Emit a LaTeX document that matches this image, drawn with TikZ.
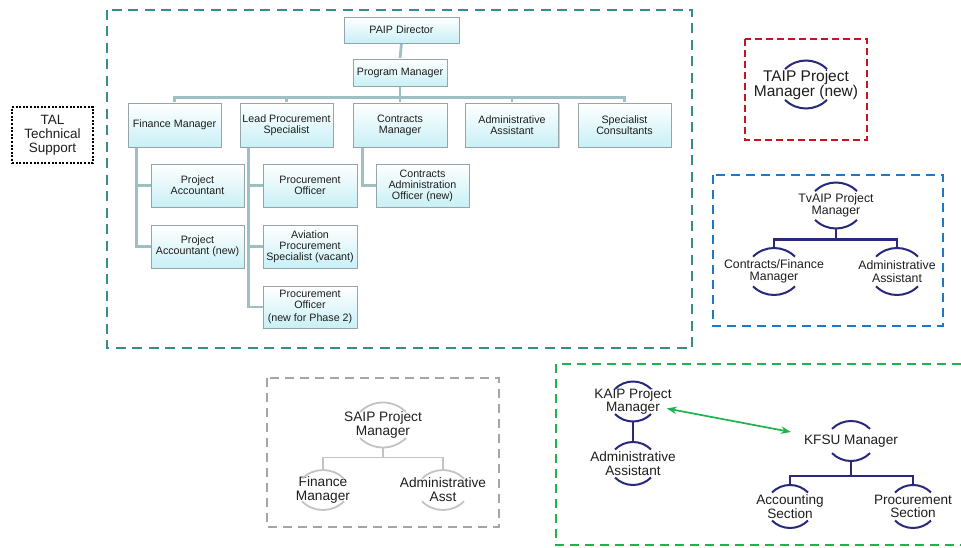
\documentclass[tikz,border=0pt]{standalone}
\usepackage{fontspec}
\setmainfont{Liberation Sans}
\usetikzlibrary{calc,shadows,arrows.meta,backgrounds}
\definecolor{tealdash}{RGB}{55,140,140}
\definecolor{reddash}{RGB}{200,20,30}
\definecolor{bluedash}{RGB}{30,120,200}
\definecolor{greydash}{RGB}{165,165,165}
\definecolor{greendash}{RGB}{30,180,75}
\definecolor{navy}{RGB}{40,40,125}
\definecolor{conn}{RGB}{158,192,196}
\definecolor{boxcyan}{RGB}{200,240,246}
\definecolor{boxedge}{RGB}{150,165,168}
\definecolor{lightarc}{RGB}{195,195,195}
\definecolor{txt}{RGB}{30,30,30}
\newcommand\ringarcs[4]{%
  \coordinate (#1-t) at ($(#1.center)+(0,#3)$);
  \coordinate (#1-b) at ($(#1.center)+(0,-#3)$);
  \draw[#4] ($(#1.center)+({-#2},{#3-0.4142*#2})$) arc[start angle=135,end angle=45,radius={1.4142*#2}];
  \draw[#4] ($(#1.center)+({-#2},{-#3+0.4142*#2})$) arc[start angle=225,end angle=315,radius={1.4142*#2}];
}
\begin{document}
\begin{tikzpicture}[x=1pt,y=1pt,
  orgbox/.style={draw=boxedge,line width=0.7pt,top color=white,bottom color=boxcyan,
    drop shadow={shadow xshift=1.2pt,shadow yshift=-1.2pt,opacity=0.35},
    align=center,inner sep=1pt,text=txt,font=\fontsize{10.7}{11}\selectfont,
    minimum width=93,minimum height=43},
  orgline/.style={draw=conn,line width=2.8pt},
  arctext/.style={align=center,inner sep=0pt,text=txt},
  navyarc/.style={draw=navy,line width=2pt},
  navyline/.style={draw=navy,line width=2.4pt},
  greyarc/.style={draw=lightarc,line width=1.8pt},
  greyline/.style={draw=lightarc,line width=1.5pt},
  dashbox/.style={line width=2.7pt,dash pattern=on 9pt off 6pt}
]
\useasboundingbox (0,0) rectangle (961,-548);
\begin{scope}[on background layer]
\fill[white] (0,0) rectangle (961,-548);
\end{scope}

% containers
\draw[dashbox,draw=tealdash,dash pattern=on 10pt off 6.5pt] (107,-10) rectangle (692,-348);
\draw[dashbox,draw=reddash,dash pattern=on 7pt off 4pt] (745,-39) rectangle (867,-140);
\draw[dashbox,draw=bluedash] (713,-175) rectangle (943,-326);
\draw[dashbox,draw=greydash] (267,-378) rectangle (499,-527);
\draw[dashbox,draw=greendash] (556,-364) rectangle (975,-545);

% TAL
\node[draw=black,line width=2.2pt,dash pattern=on 2pt off 1.6pt,minimum width=81,minimum height=56,
  align=center,inner sep=0pt,font=\fontsize{13.5}{14}\selectfont,text=txt] (tal) at (52.5,-135)
  {TAL\\Technical\\Support};

% main chart
\node[orgbox,minimum width=115,minimum height=26] (dir) at (401.5,-30) {PAIP Director};
\node[orgbox,minimum width=94,minimum height=27] (pm) at (400,-72.5) {Program Manager};
\node[orgbox,minimum height=44] (fm) at (174.5,-125) {Finance Manager};
\node[orgbox,minimum height=44] (lps) at (286.5,-125) {Lead Procurement\\Specialist};
\node[orgbox,minimum height=44,minimum width=94] (cm) at (400,-125) {Contracts\\Manager};
\node[orgbox,minimum height=44] (aa) at (512,-125) {Administrative\\Assistant};
\node[orgbox,minimum height=44] (sc) at (624.5,-125) {Specialist\\Consultants};
\node[orgbox] (pa) at (197.5,-185.5) {Project\\Accountant};
\node[orgbox] (pan) at (197.5,-246.5) {Project\\Accountant (new)};
\node[orgbox,minimum width=94] (po) at (310,-185.5) {Procurement\\Officer};
\node[orgbox,minimum width=94] (aps) at (310,-246.5) {Aviation\\Procurement\\Specialist (vacant)};
\node[orgbox,minimum width=94,minimum height=42] (po2) at (310,-307) {Procurement\\Officer\\[2pt](new for Phase 2)};
\node[orgbox] (cao) at (422.5,-185.5) {Contracts\\Administration\\Officer (new)};

\begin{scope}[on background layer]
\draw[orgline] (dir.south) -- (pm.north);
\foreach \c in {fm,lps,cm,aa,sc}{
  \draw[orgline] (pm.south) -- ++(0,-11) -| (\c.north);
}
\draw[orgline] ([xshift=9]fm.south west) |- (pa.west);
\draw[orgline] ([xshift=9]fm.south west) |- (pan.west);
\draw[orgline] ([xshift=9]lps.south west) |- (po.west);
\draw[orgline] ([xshift=9]lps.south west) |- (aps.west);
\draw[orgline] ([xshift=9]lps.south west) |- (po2.west);
\draw[orgline] ([xshift=10]cm.south west) |- (cao.west);
\end{scope}

% TAIP
\node[arctext,font=\fontsize{15.5}{15}\selectfont] (taip) at (806,-84.5) {TAIP Project\\Manager (new)};
\ringarcs{taip}{21}{24}{navyarc}

% TvAIP
\begin{scope}[every node/.append style={font=\fontsize{12.3}{12.5}\selectfont}]
\node[arctext] (tv) at (836,-205.5) {TvAIP Project\\Manager};
\node[arctext] (tvcf) at (774,-271.5) {Contracts/Finance\\Manager};
\node[arctext] (tvaa) at (897,-271.5) {Administrative\\Assistant};
\end{scope}
\ringarcs{tv}{21}{23}{navyarc}
\ringarcs{tvcf}{21}{23.5}{navyarc}
\ringarcs{tvaa}{21}{23.5}{navyarc}
\draw[navyline] (tv-b) -- ++(0,-11) -| (tvcf-t);
\draw[navyline] (tv-b) -- ++(0,-11) -| (tvaa-t);

% SAIP
\begin{scope}[every node/.append style={font=\fontsize{13.7}{14}\selectfont}]
\node[arctext] (sa) at (383,-425) {SAIP Project\\Manager};
\node[arctext] (safm) at (323,-490) {Finance\\Manager};
\node[arctext] (saaa) at (443,-490) {Administrative\\Asst};
\end{scope}
\ringarcs{sa}{23}{22.5}{greyarc}
\ringarcs{safm}{21}{20}{greyarc}
\ringarcs{saaa}{21}{20}{greyarc}
\draw[greyline] (sa-b) -- ++(0,-10) -| (safm-t);
\draw[greyline] (sa-b) -- ++(0,-10) -| (saaa-t);

% KAIP / KFSU
\begin{scope}[every node/.append style={font=\fontsize{13.6}{13.5}\selectfont}]
\node[arctext] (ka) at (633,-401.5) {KAIP Project\\Manager};
\node[arctext] (kaa) at (633,-463.5) {Administrative\\Assistant};
\node[arctext] (kf) at (851,-441) {KFSU Manager};
\node[arctext] (kfac) at (790,-506.5) {Accounting\\Section};
\node[arctext] (kfpr) at (913,-506.5) {Procurement\\Section};
\end{scope}
\ringarcs{ka}{18}{20}{navyarc}
\ringarcs{kaa}{18}{21.5}{navyarc}
\ringarcs{kf}{19}{20}{navyarc}
\ringarcs{kfac}{18}{21.5}{navyarc}
\ringarcs{kfpr}{18}{21.5}{navyarc}
\draw[navyline] (ka-b) -- (kaa-t);
\draw[navyline] (kf-b) -- ++(0,-15) -| (kfac-t);
\draw[navyline] (kf-b) -- ++(0,-15) -| (kfpr-t);
\draw[draw=greendash,line width=1.7pt,{Stealth[length=10pt,width=7.5pt]}-{Stealth[length=10pt,width=7.5pt]}]
  ([shift={(-5,-7)}]ka.east) -- ([shift={(-13,9)}]kf.west);
\end{tikzpicture}
\end{document}
